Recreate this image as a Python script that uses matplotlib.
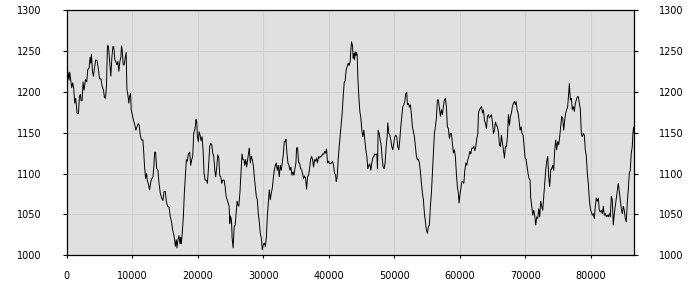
import matplotlib
matplotlib.use("Agg")
import matplotlib.pyplot as plt

x_vals = [
0,153,255,357,459,612,765,918,1071,1224,1377,1581,1785,1938,2091,2193,2346,2499,2652,2856,
3060,3213,3417,3570,3672,3774,3927,4080,4233,4437,4641,4845,4998,5202,5406,5610,5763,5916,6069,6222,
6375,6528,6732,6885,7038,7191,7344,7497,7650,7803,7956,8109,8262,8364,8466,8619,8772,8925,9078,9180,
9333,9486,9588,9741,9843,9996,10200,10404,10557,10761,10914,11067,11220,11424,11628,11730,11883,12036,12189,12291,
12495,12648,12801,13005,13158,13311,13413,13566,13719,13923,14076,14280,14484,14688,14841,15045,15198,15402,15606,15810,
16014,16167,16320,16473,16575,16728,16830,16983,17136,17289,17391,17493,17646,17799,17952,18105,18258,18411,18564,18768,
18921,19074,19227,19380,19584,19737,19839,19941,20094,20196,20349,20502,20655,20808,20961,21114,21318,21471,21624,21828,
21981,22134,22287,22440,22593,22746,22899,23052,23205,23358,23511,23664,23817,24021,24174,24327,24480,24633,24786,24888,
24990,25143,25245,25398,25551,25704,25857,26010,26112,26265,
26444,26596,26749,26901,27054,27155,27308,27460,27612,27765,27866,28019,28171,28324,28476,28628,28781,28933,29086,29238,
29390,29543,29695,29848,30000,30152,30305,30457,30610,30762,30914,31067,31219,31372,31524,31676,31829,31981,32134,32286,
32438,32591,32743,32896,33048,33200,33353,33454,33606,33759,33911,34064,34216,34369,34521,34674,34826,34978,35080,35232,
35385,35537,35690,35842,35994,36147,36299,36452,36604,36756,36909,37061,37214,37366,37518,37671,37823,37976,38128,38280,
38433,38585,38738,38890,39042,39195,39347,39500,39652,39804,39957,40109,40262,40414,40566,40719,40871,41024,41125,41278,
41430,41582,41735,41887,42040,42192,42344,42497,42649,42802,42954,43106,43259,43360,43462,43614,43716,43818,43919,44021,
44122,44224,44326,44427,44580,44732,44884,45037,45189,45342,45494,45646,45799,45951,46104,46256,46408,46561,46713,46866,
47018,47170,47323,47424,47526,47678,47831,47983,48136,48288,48440,48593,48745,48898,48999,49152,49304,49456,49609,49761,
49914,50066,50218,50371,50523,50676,50828,50980,51133,51285,51438,51590,51742,51895,51996,52149,52301,52454,52606,52758,
52911,53063,53216,53368,53520,53673,53825,53978,54130,54282,54435,54587,54740,54892,55044,55197,55349,55502,55654,55806,
55959,56111,56264,56416,56568,56721,56873,57026,57178,57330,57483,57635,57788,57940,58092,58245,58397,58550,58702,58854,
59007,59159,59312,59464,59616,59769,59870,
60043,60297,60450,60602,60754,60907,61059,61212,61364,61516,61669,61821,61974,62126,62278,62431,62583,62736,62837,62989,
63142,63294,63446,63599,63751,63904,64056,64208,64361,64513,64666,64818,64970,65123,65275,65428,65580,65733,65885,66037,
66190,66342,66494,66647,66799,66952,67104,67256,67409,67561,67714,67866,68018,68171,68323,68476,68577,68730,68882,69034,
69187,69339,69492,69644,69797,69949,70102,70254,70406,70559,70711,70813,70965,71118,71270,71422,71575,71727,71880,72032,
72184,72337,72489,72642,72794,72946,73099,73251,73404,73556,73708,73861,74013,74166,74318,74470,74623,74775,74928,75080,
75232,75385,75537,75690,75842,75994,76147,76299,76452,76604,76706,76858,77010,77163,77315,77468,77620,77772,77925,78077,
78230,78382,78534,78687,78839,78992,79144,79296,79449,79601,79754,79906,80058,80211,80363,80516,80668,80820,80973,81125,
81278,81430,81582,81735,81887,82040,82192,82344,82497,82649,82802,82954,83106,83259,83411,83564,83716,83868,84021,84173,
84326,84478,84630,84783,84935,85088,85240,85392,85545,85697,85850,86002,86154,86307,86408,86510,86612,
]

y_vals = [
1222,1216,1223,1214,1224,1214,1205,1211,1204,1186,1192,1174,1173,1194,1197,1189,1189,1212,1202,1215,
1212,1227,1229,1242,1235,1246,1225,1219,1229,1239,1238,1227,1216,1216,1207,1202,1193,1192,1207,1257,
1255,1239,1219,1241,1255,1255,1239,1237,1233,1237,1225,1237,1242,1256,1251,1233,1233,1242,1248,1204,
1196,1186,1194,1198,1178,1172,1165,1159,1153,1158,1161,1159,1147,1141,1141,1129,1108,1094,1100,1092,
1086,1080,1089,1094,1096,1110,1126,1126,1106,1104,1089,1076,1070,1067,1078,1078,1066,1060,1059,1047,
1040,1031,1026,1019,1011,1019,1009,1019,1024,1014,1022,1014,1029,1047,1076,1096,1117,1115,1124,1126,
1110,1117,1121,1149,1155,1166,1163,1145,1139,1151,1147,1140,1145,1129,1100,1092,1092,1088,1106,1133,
1137,1135,1125,1121,1104,1096,1108,1123,1119,1097,1096,1088,1092,1092,1084,1072,1068,1064,1060,1039,
1048,1043,1021,1009,1035,1037,1051,1066,1062,1060,
1078,1100,1124,1117,1117,1110,1117,1108,1117,1126,1131,1113,1121,1117,1110,1096,1084,1072,1068,1051,
1041,1027,1021,1007,1013,1015,1011,1021,1047,1064,1080,1068,1076,1082,1094,1104,1110,1113,1104,1110,
1096,1110,1104,1113,1123,1139,1139,1142,1125,1113,1110,1104,1108,1098,1102,1098,1106,1113,1131,1132,
1113,1113,1106,1105,1100,1094,1097,1094,1081,1096,1098,1106,1117,1121,1117,1108,1117,1115,1119,1113,
1121,1119,1121,1121,1124,1123,1127,1125,1130,1113,1115,1112,1112,1113,1115,1110,1100,1099,1090,1096,
1117,1133,1147,1161,1174,1194,1211,1214,1227,1231,1235,1232,1237,1251,1261,1256,1241,1247,1239,1249,
1244,1248,1245,1218,1194,1176,1168,1153,1145,1153,1141,1129,1121,1106,1110,1112,1104,1113,1119,1121,
1124,1123,1124,1106,1153,1149,1141,1135,1119,1108,1106,1113,1133,1145,1162,1149,1147,1141,1133,1129,
1137,1145,1147,1145,1133,1129,1141,1157,1170,1182,1184,1188,1198,1199,1184,1186,1181,1184,1172,1157,
1151,1145,1133,1121,1117,1117,1113,1102,1088,1076,1068,1051,1041,1031,1027,1035,1037,1060,1076,1100,
1125,1149,1157,1168,1190,1190,1180,1170,1178,1172,1182,1190,1192,1182,1157,1155,1143,1149,1149,1137,
1125,1129,1121,1100,1084,1076,1064,
1076,1090,1090,1088,1104,1113,1110,1117,1121,1127,1124,1131,1131,1133,1128,1133,1143,1149,1174,1178,
1180,1182,1174,1178,1165,1161,1155,1170,1172,1168,1170,1172,1163,1149,1153,1163,1159,1157,1151,1135,
1133,1147,1137,1129,1119,1133,1133,1145,1172,1159,1170,1174,1182,1186,1188,1184,1188,1178,1174,1165,
1153,1157,1149,1147,1133,1119,1117,1108,1100,1094,1092,1070,1060,1049,1055,1049,1037,1047,1045,1057,
1047,1066,1060,1055,1072,1088,1104,1115,1121,1096,1084,1104,1106,1110,1104,1129,1141,1129,1139,1135,
1145,1157,1170,1168,1153,1165,1174,1178,1182,1198,1210,1190,1192,1178,1182,1176,1186,1190,1194,1194,
1186,1178,1149,1145,1149,1147,1129,1121,1100,1088,1068,1057,1053,1049,1051,1045,1060,1070,1066,1070,
1055,1053,1055,1051,1060,1049,1051,1047,1049,1047,1051,1047,1072,1068,1037,1051,1060,1070,1078,1088,
1078,1068,1057,1051,1060,1055,1045,1041,1064,1080,1100,1104,1125,1133,1149,1157,1149,
]

x_ticks = [0, 10000, 20000, 30000, 40000, 50000, 60000, 70000, 80000]
y_ticks = [1000, 1050, 1100, 1150, 1200, 1250, 1300]

plt.rcParams['font.family'] = ['DejaVu Sans']
fig = plt.figure(figsize=(7, 3), dpi=100)
fig.patch.set_facecolor('white')
ax = fig.add_axes([0.0953, 0.149, 0.8108, 0.8177])
ax.set_facecolor('#e0e0e0')
ax.plot(x_vals, y_vals, color='black', linewidth=0.7, antialiased=True)
ax.set_xlim(0, 86612)
ax.set_ylim(1000, 1300)
ax.set_xticks(x_ticks)
ax.set_xticklabels([str(t) for t in x_ticks])
ax.set_yticks(y_ticks)
ax.set_yticklabels([str(t) for t in y_ticks])
ax.grid(True, color='#cfcfcf', linewidth=0.8)
ax.set_axisbelow(True)
ax.tick_params(axis='y', which='both', left=True, right=True, labelleft=True, labelright=True,
               direction='out', length=3, width=0.8, labelsize=7, pad=15, colors='black')
ax.tick_params(axis='x', direction='out', length=2.5, width=0.8, labelsize=7, pad=9)
for s in ax.spines.values():
    s.set_color('black')
    s.set_linewidth(0.9)
fig.savefig('out.png', dpi=100, facecolor='white')
